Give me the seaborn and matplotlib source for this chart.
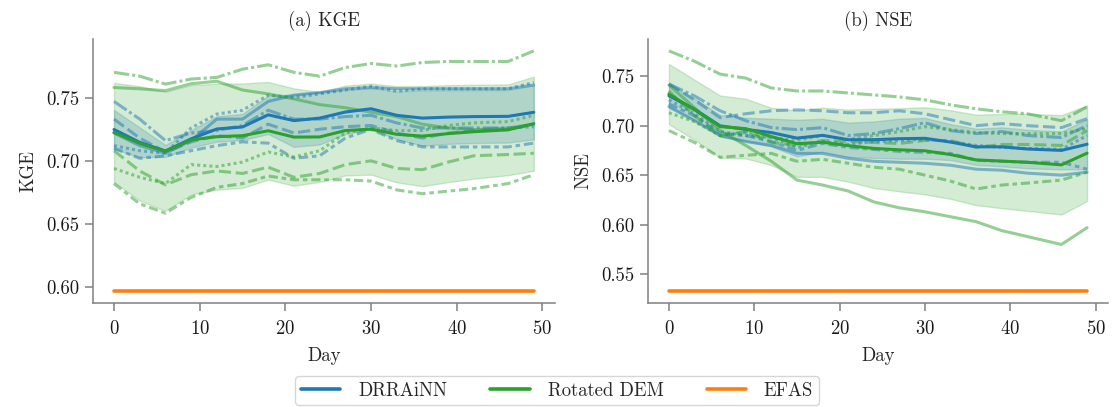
import numpy as np
import pandas as pd
import matplotlib
matplotlib.use("Agg")
import matplotlib.pyplot as plt
import matplotlib.ticker as mticker
import seaborn as sns
from matplotlib.lines import Line2D

# Lead time (days) at which the scores were sampled
DAYS = [0, 3, 6, 9, 12, 15, 18, 21, 24, 27, 30, 33, 36, 39, 42, 46, 49]
RUNS = ["run 1", "run 2", "run 3", "run 4", "run 5"]
MODELS = ["DRRAiNN", "Rotated DEM"]

# KGE per training run
KGE_DRRAINN = [
    [0.722, 0.712, 0.706, 0.716, 0.733, 0.733, 0.747, 0.752, 0.754, 0.757, 0.758, 0.757, 0.757, 0.757, 0.757, 0.757, 0.760],
    [0.733, 0.718, 0.707, 0.715, 0.720, 0.718, 0.729, 0.722, 0.725, 0.727, 0.728, 0.722, 0.718, 0.722, 0.724, 0.725, 0.729],
    [0.712, 0.708, 0.706, 0.726, 0.737, 0.740, 0.752, 0.750, 0.753, 0.756, 0.759, 0.755, 0.757, 0.757, 0.757, 0.757, 0.762],
    [0.710, 0.702, 0.704, 0.708, 0.712, 0.715, 0.714, 0.702, 0.704, 0.718, 0.725, 0.716, 0.711, 0.711, 0.711, 0.711, 0.714],
    [0.747, 0.733, 0.716, 0.722, 0.724, 0.728, 0.740, 0.733, 0.733, 0.735, 0.736, 0.730, 0.726, 0.726, 0.726, 0.726, 0.727],
]
KGE_ROTATED = [
    [0.758, 0.757, 0.7555, 0.761, 0.763, 0.756, 0.753, 0.749, 0.7445, 0.742, 0.7385, 0.735, 0.729, 0.726, 0.7246, 0.726, 0.729],
    [0.708, 0.692, 0.681, 0.689, 0.692, 0.690, 0.695, 0.687, 0.690, 0.697, 0.700, 0.694, 0.693, 0.699, 0.704, 0.705, 0.706],
    [0.694, 0.687, 0.682, 0.697, 0.6955, 0.699, 0.707, 0.703, 0.708, 0.722, 0.726, 0.724, 0.724, 0.728, 0.730, 0.731, 0.736],
    [0.682, 0.666, 0.6586, 0.671, 0.679, 0.682, 0.688, 0.685, 0.685, 0.685, 0.684, 0.677, 0.674, 0.676, 0.678, 0.682, 0.689],
    [0.770, 0.767, 0.7607, 0.7647, 0.766, 0.7725, 0.776, 0.770, 0.767, 0.7738, 0.777, 0.775, 0.7778, 0.7786, 0.7786, 0.7786, 0.787],
]

# NSE per training run
NSE_DRRAINN = [
    [0.719, 0.705, 0.690, 0.684, 0.680, 0.672, 0.672, 0.667, 0.664, 0.663, 0.662, 0.660, 0.656, 0.655, 0.652, 0.650, 0.653],
    [0.742, 0.726, 0.708, 0.712, 0.715, 0.716, 0.715, 0.713, 0.713, 0.715, 0.712, 0.706, 0.700, 0.702, 0.700, 0.698, 0.707],
    [0.726, 0.712, 0.694, 0.690, 0.688, 0.678, 0.684, 0.681, 0.684, 0.685, 0.686, 0.684, 0.680, 0.678, 0.677, 0.676, 0.690],
    [0.722, 0.710, 0.692, 0.690, 0.684, 0.675, 0.682, 0.678, 0.676, 0.674, 0.673, 0.672, 0.665, 0.664, 0.663, 0.663, 0.656],
    [0.742, 0.730, 0.715, 0.705, 0.698, 0.696, 0.698, 0.690, 0.692, 0.697, 0.703, 0.695, 0.692, 0.694, 0.690, 0.688, 0.700],
]
NSE_ROTATED = [
    [0.741, 0.718, 0.695, 0.680, 0.664, 0.645, 0.640, 0.634, 0.623, 0.617, 0.613, 0.608, 0.603, 0.594, 0.588, 0.580, 0.597],
    [0.735, 0.710, 0.690, 0.694, 0.683, 0.680, 0.685, 0.684, 0.683, 0.682, 0.685, 0.685, 0.678, 0.681, 0.681, 0.680, 0.695],
    [0.713, 0.704, 0.690, 0.693, 0.688, 0.685, 0.690, 0.686, 0.690, 0.694, 0.699, 0.696, 0.693, 0.692, 0.692, 0.692, 0.697],
    [0.695, 0.683, 0.668, 0.670, 0.672, 0.664, 0.666, 0.662, 0.658, 0.656, 0.650, 0.644, 0.636, 0.640, 0.642, 0.645, 0.653],
    [0.7755, 0.765, 0.752, 0.748, 0.738, 0.735, 0.735, 0.733, 0.731, 0.729, 0.726, 0.721, 0.717, 0.714, 0.712, 0.705, 0.719],
]

# EFAS benchmark scores (constant over lead time)
EFAS_KGE = 0.597
EFAS_NSE = 0.533

PALETTE = {"DRRAiNN": "#1f77b4", "Rotated DEM": "#2ca02c"}
EFAS_COLOR = "#ff7f0e"

rows = []
for model, kge_runs, nse_runs in [("DRRAiNN", KGE_DRRAINN, NSE_DRRAINN),
                                  ("Rotated DEM", KGE_ROTATED, NSE_ROTATED)]:
    for run, kv, nv in zip(RUNS, kge_runs, nse_runs):
        for d, k, n in zip(DAYS, kv, nv):
            rows.append({"Day": d, "model": model, "run": run, "KGE": k, "NSE": n})
runs = pd.DataFrame(rows)
efas = pd.DataFrame({"Day": [DAYS[0], DAYS[-1]],
                     "KGE": [EFAS_KGE, EFAS_KGE],
                     "NSE": [EFAS_NSE, EFAS_NSE]})

sns.set_theme(style="ticks")
plt.rcParams["font.family"] = ["cmr10", "DejaVu Serif"]
plt.rcParams["axes.formatter.use_mathtext"] = True
plt.rcParams["mathtext.fontset"] = "cm"
plt.rcParams["axes.edgecolor"] = "#808080"
plt.rcParams["axes.linewidth"] = 1.1
plt.rcParams["xtick.color"] = "#808080"
plt.rcParams["ytick.color"] = "#808080"
plt.rcParams["xtick.labelcolor"] = "#1a1a1a"
plt.rcParams["ytick.labelcolor"] = "#1a1a1a"
plt.rcParams["xtick.major.size"] = 6
plt.rcParams["ytick.major.size"] = 6
plt.rcParams["xtick.major.width"] = 1.1
plt.rcParams["ytick.major.width"] = 1.1
plt.rcParams["axes.unicode_minus"] = False

FS = 13.5
fig = plt.figure(figsize=(11.14, 4.07), dpi=100)
ax_k = fig.add_axes([0.0835, 0.2555, 0.4145, 0.6490])
ax_n = fig.add_axes([0.5817, 0.2555, 0.4129, 0.6490])

LW = 2.2
for ax, metric, title in [(ax_k, "KGE", "(a) KGE"), (ax_n, "NSE", "(b) NSE")]:
    # individual runs
    sns.lineplot(data=runs, x="Day", y=metric, hue="model", style="run",
                 hue_order=MODELS, style_order=RUNS, palette=PALETTE,
                 estimator=None, alpha=0.5, lw=LW, legend=False, ax=ax)
    # mean across runs with standard deviation band
    sns.lineplot(data=runs, x="Day", y=metric, hue="model", hue_order=MODELS,
                 palette=PALETTE, errorbar="sd", lw=LW, legend=False, ax=ax)
    sns.lineplot(data=efas, x="Day", y=metric, color=EFAS_COLOR, lw=LW + 0.4,
                 legend=False, ax=ax)
    ax.set_title(title, fontsize=FS, pad=9)
    ax.set_xlabel("Day", fontsize=FS, labelpad=7)
    ax.set_ylabel(metric, fontsize=FS, labelpad=6)
    ax.set_xticks([0, 10, 20, 30, 40, 50])
    ax.tick_params(labelsize=FS, pad=4)
    ax.tick_params(axis="x", pad=6)
    sns.despine(ax=ax)

ax_k.set_yticks([0.60, 0.65, 0.70, 0.75])
ax_n.set_yticks([0.55, 0.60, 0.65, 0.70, 0.75])
for ax in (ax_k, ax_n):
    ax.yaxis.set_major_formatter(mticker.FormatStrFormatter("%.2f"))

handles = [Line2D([], [], color=PALETTE["DRRAiNN"], lw=2.6),
           Line2D([], [], color=PALETTE["Rotated DEM"], lw=2.6),
           Line2D([], [], color=EFAS_COLOR, lw=2.6)]
fig.legend(handles, ["DRRAiNN", "Rotated DEM", "EFAS"], loc="lower center",
           bbox_to_anchor=(0.5, 0.0), ncol=3, fontsize=FS, frameon=True,
           columnspacing=2.3, handlelength=2.1, handletextpad=0.95,
           borderaxespad=0.1, borderpad=0.3)

fig.savefig("out.png", dpi=100)
